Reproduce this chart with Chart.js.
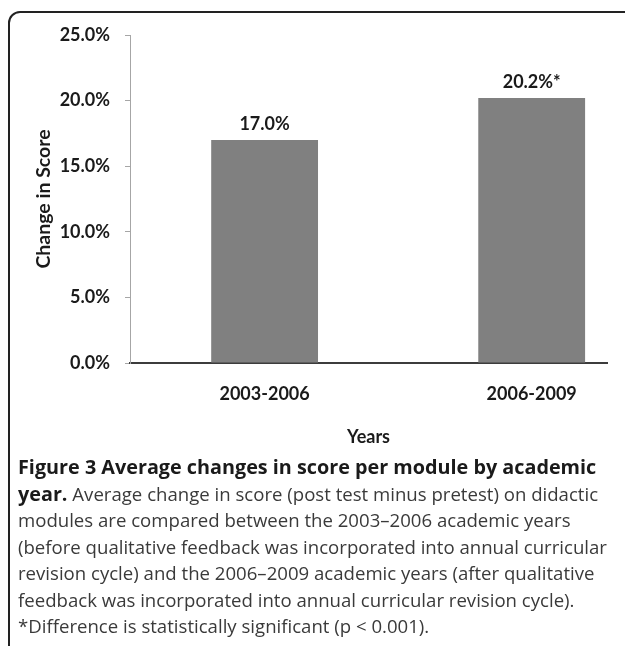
<!DOCTYPE html>
<html>
<head>
<meta charset="utf-8">
<script src="https://cdn.jsdelivr.net/npm/chart.js@4/dist/chart.umd.min.js"></script>
<style>
  html, body { margin: 0; padding: 0; background: #fff; }
  body { width: 625px; height: 646px; position: relative; overflow: hidden; font-family: "Open Sans", sans-serif; }
  .frame { position: absolute; left: 8px; top: 11px; width: 680px; height: 700px; border: 2px solid #222; border-top-left-radius: 12px; box-sizing: border-box; }
  #wrap { position: absolute; left: 0; top: 0; width: 625px; height: 460px; }
  .caption { position: absolute; left: 18px; top: 454px; font-size: 18.6px; line-height: 26.5px; color: #3a3a3a; white-space: nowrap; }
  .caption b { color: #1a1a1a; font-size: 19.8px; }
</style>
</head>
<body>
<div class="frame"></div>
<div id="wrap"><canvas id="c" width="625" height="460"></canvas></div>
<div class="caption">
  <b>Figure 3 Average changes in score per module by academic</b><br>
  <b>year.</b> Average change in score (post test minus pretest) on didactic<br>
  modules are compared between the 2003–2006 academic years<br>
  (before qualitative feedback was incorporated into annual curricular<br>
  revision cycle) and the 2006–2009 academic years (after qualitative<br>
  feedback was incorporated into annual curricular revision cycle).<br>
  *Difference is statistically significant (p &lt; 0.001).
</div>
<script>
// Academic-year groups and their average change in score (%)
const categories = ['2003-2006', '2006-2009'];
const changeInScore = [17.0, 20.2];
const significant = [false, true];
const yTicks = [0, 5, 10, 15, 20, 25];

const textColor = '#1a1a1a';
const boldFont = (size) => ({ family: 'Lato', weight: 'bold', size: size });

// Writes each bar's value above it, with an asterisk for significant results
const valueLabels = {
  id: 'valueLabels',
  afterDatasetsDraw(chart) {
    const { ctx } = chart;
    const meta = chart.getDatasetMeta(0);
    ctx.save();
    ctx.font = 'bold 18px Lato';
    ctx.fillStyle = textColor;
    ctx.textAlign = 'center';
    ctx.textBaseline = 'bottom';
    meta.data.forEach((bar, i) => {
      const text = changeInScore[i].toFixed(1) + '%' + (significant[i] ? '*' : '');
      ctx.fillText(text, bar.x, bar.y - 7);
    });
    ctx.restore();
  }
};

function draw() {
  new Chart(document.getElementById('c'), {
    type: 'bar',
    data: {
      datasets: [{
        data: categories.map((c, i) => ({ x: i, y: changeInScore[i] })),
        backgroundColor: '#808080',
        borderWidth: 0,
        barPercentage: 0.4,
        categoryPercentage: 1
      }]
    },
    options: {
      responsive: false,
      animation: false,
      devicePixelRatio: 1,
      layout: { padding: { top: 35, right: 18, left: 0, bottom: 0 } },
      plugins: { legend: { display: false }, tooltip: { enabled: false } },
      scales: {
        x: {
          type: 'linear',
          offset: false,
          min: -0.504,
          max: 1.282,
          afterBuildTicks: (s) => { s.ticks = categories.map((c, i) => ({ value: i })); },
          afterFit: (s) => { s.height = 460 - 363; },
          ticks: {
            callback: (v) => categories[v] ?? '',
            font: boldFont(18),
            color: textColor,
            padding: 20,
            maxRotation: 0
          },
          grid: { display: false, drawTicks: false, offset: false },
          border: { display: true, color: '#3c3c3c', width: 2 },
          title: {
            display: true,
            text: 'Years',
            font: boldFont(18),
            color: textColor,
            padding: { top: 0, bottom: 12 }
          }
        },
        y: {
          min: 0,
          max: 25,
          afterBuildTicks: (s) => { s.ticks = yTicks.map((v) => ({ value: v })); },
          afterFit: (s) => { s.width = 130; },
          ticks: {
            callback: (v) => v.toFixed(1) + '%',
            font: boldFont(18),
            color: textColor,
            padding: 15
          },
          grid: { drawOnChartArea: false, drawTicks: true, tickLength: 5, color: '#a6a6a6' },
          border: { display: true, color: '#a6a6a6', width: 1 },
          title: {
            display: true,
            text: 'Change in Score',
            font: boldFont(19.5),
            color: textColor,
            padding: { top: 32, bottom: 0 }
          }
        }
      }
    },
    plugins: [valueLabels]
  });
}

document.fonts.load('bold 18px Lato').then(draw, draw);
</script>
</body>
</html>
